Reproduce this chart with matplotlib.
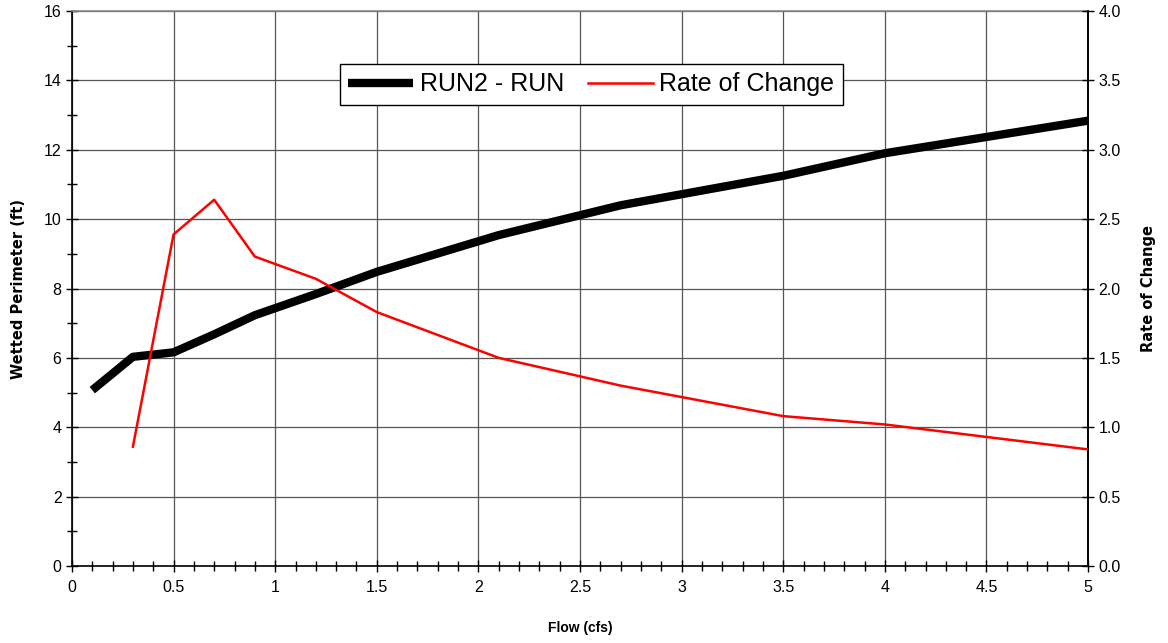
import numpy as np
import matplotlib.pyplot as plt
from matplotlib.ticker import MultipleLocator

plt.rcParams['font.family'] = ['Liberation Sans', 'DejaVu Sans']

# data
flow = [0.1, 0.3, 0.5, 0.7, 0.9, 1.2, 1.5, 2.1, 2.7, 3.5, 4.0, 5.0]
wetted_perimeter = [5.07, 6.03, 6.16, 6.68, 7.23, 7.84, 8.48, 9.54, 10.40, 11.25, 11.90, 12.84]
rate_flow = [0.3, 0.5, 0.7, 0.9, 1.2, 1.5, 2.1, 2.7, 3.5, 4.0, 5.0]
rate_of_change = [0.86, 2.39, 2.64, 2.23, 2.07, 1.83, 1.50, 1.30, 1.08, 1.02, 0.84]

x_labels = ['0', '0.5', '1', '1.5', '2', '2.5', '3', '3.5', '4', '4.5', '5']
left_labels = ['0', '2', '4', '6', '8', '10', '12', '14', '16']
right_labels = ['0.0', '0.5', '1.0', '1.5', '2.0', '2.5', '3.0', '3.5', '4.0']

fig = plt.figure(figsize=(11.68, 6.43), dpi=100)
ax = fig.add_axes([0.0616, 0.1198, 0.87, 0.863])

ax.plot(flow, wetted_perimeter, color='black', lw=6, solid_capstyle='butt',
        label='RUN2 - RUN', zorder=3)

ax.set_xlim(0, 5)
ax.set_ylim(0, 16)
ax.set_xticks(np.arange(0, 5.01, 0.5))
ax.set_xticklabels(x_labels)
ax.set_yticks(np.arange(0, 16.1, 2))
ax.set_yticklabels(left_labels)
ax.xaxis.set_minor_locator(MultipleLocator(0.1))
ax.yaxis.set_minor_locator(MultipleLocator(1))
ax.tick_params(which='major', direction='inout', length=8, width=1, labelsize=11.5, color='black')
ax.tick_params(which='minor', direction='inout', length=7, width=1, color='black')
ax.tick_params(axis='x', pad=6)
ax.grid(True, which='major', color='#555555', lw=0.9)
for s in ax.spines.values():
    s.set_color('black')
    s.set_linewidth(1.2)
ax.spines['top'].set_color('#888888')

ax.set_xlabel('Flow (cfs)', fontsize=10, fontweight='bold')
ax.xaxis.set_label_coords(0.5, -0.1)
ax.set_ylabel('Wetted Perimeter (ft)', fontsize=10.5, fontweight='heavy',
              family='DejaVu Sans')
ax.yaxis.set_label_coords(-0.045, 0.5)

ax2 = ax.twinx()
ax2.plot(rate_flow, rate_of_change, color='#ff0000', lw=1.8, label='Rate of Change', zorder=4)
ax2.set_ylim(0, 4)
ax2.set_yticks(np.arange(0, 4.01, 0.5))
ax2.set_yticklabels(right_labels)
ax2.tick_params(which='major', direction='inout', length=8, width=1, labelsize=11.5, color='black')
for s in ax2.spines.values():
    s.set_visible(False)
ax2.spines['right'].set_visible(True)
ax2.spines['right'].set_linewidth(1.2)
ax2.set_ylabel('Rate of Change', fontsize=10.5, fontweight='heavy',
               family='DejaVu Sans', rotation=90)
ax2.yaxis.set_label_coords(1.052, 0.5)

h1, l1 = ax.get_legend_handles_labels()
h2, l2 = ax2.get_legend_handles_labels()
leg = ax2.legend(h1 + h2, l1 + l2, loc='center', bbox_to_anchor=(0.511, 0.868),
                 ncol=2, fontsize=18, frameon=True, fancybox=False, framealpha=1,
                 edgecolor='black', handlelength=2.6, handletextpad=0.25,
                 columnspacing=0.95, borderpad=0.35, borderaxespad=0)
leg.get_frame().set_linewidth(1.0)

fig.savefig('out.png', dpi=100)
